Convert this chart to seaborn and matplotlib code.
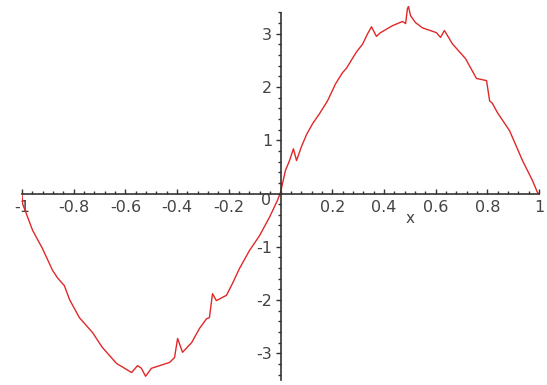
import numpy as np
import matplotlib
matplotlib.use("Agg")
import matplotlib.pyplot as plt
import seaborn as sns
from matplotlib.ticker import MultipleLocator

# curve points
x_vals = [-1.000, -0.998, -0.983, -0.959, -0.921, -0.882, -0.863, -0.836, -0.816,
          -0.778, -0.727, -0.689, -0.634, -0.576, -0.553, -0.538, -0.522, -0.499,
          -0.429, -0.410, -0.398, -0.379, -0.344, -0.313, -0.286, -0.275, -0.263,
          -0.248, -0.209, -0.186, -0.159, -0.120, -0.081, -0.043, -0.012, 0.000,
          0.019, 0.035, 0.050, 0.062, 0.081, 0.101, 0.124, 0.151, 0.182, 0.213,
          0.240, 0.255, 0.294, 0.317, 0.337, 0.352, 0.371, 0.387, 0.433, 0.472,
          0.484, 0.491, 0.495, 0.503, 0.522, 0.549, 0.603, 0.619, 0.634, 0.665,
          0.716, 0.758, 0.797, 0.809, 0.820, 0.839, 0.886, 0.936, 0.975, 0.994, 1.000]
y_vals = [0.00, -0.19, -0.38, -0.69, -1.03, -1.44, -1.58, -1.73, -1.99,
          -2.33, -2.61, -2.89, -3.19, -3.36, -3.23, -3.28, -3.43, -3.28,
          -3.17, -3.08, -2.72, -2.98, -2.80, -2.53, -2.35, -2.33, -1.88,
          -2.01, -1.91, -1.69, -1.41, -1.07, -0.79, -0.45, -0.13, 0.02,
          0.43, 0.62, 0.84, 0.62, 0.88, 1.11, 1.31, 1.50, 1.74, 2.06,
          2.27, 2.35, 2.66, 2.80, 3.00, 3.13, 2.95, 3.02, 3.15, 3.23,
          3.19, 3.47, 3.51, 3.34, 3.21, 3.11, 3.02, 2.93, 3.06, 2.81,
          2.53, 2.16, 2.12, 1.74, 1.69, 1.52, 1.18, 0.62, 0.24, 0.02, 0.00]

x_ticks = [-1, -0.8, -0.6, -0.4, -0.2, 0.2, 0.4, 0.6, 0.8, 1]
x_labels = ["-1", "-0.8", "-0.6", "-0.4", "-0.2", "0.2", "0.4", "0.6", "0.8", "1"]
y_ticks = [-3, -2, -1, 1, 2, 3]
y_labels = ["-3", "-2", "-1", "1", "2", "3"]

sns.set_style("white")
plt.rcParams["font.family"] = ["DejaVu Sans"]
plt.rcParams["axes.unicode_minus"] = False

fig = plt.figure(figsize=(5.47, 3.85), dpi=100)
ax = fig.add_axes([0.0402, 0.013, 0.9452, 0.9714])

sns.lineplot(x=x_vals, y=y_vals, ax=ax, color="#e02828", linewidth=1.0,
             sort=False, estimator=None)

ax.set_xlim(-1, 1)
ax.set_ylim(-3.5, 3.52)

axis_col = "#333333"
txt_col = "#444444"
for side in ["top", "right"]:
    ax.spines[side].set_visible(False)
ax.spines["left"].set_position(("data", 0))
ax.spines["bottom"].set_position(("data", 0))
ax.spines["left"].set_bounds(-3.5, 3.38)
for side in ["left", "bottom"]:
    ax.spines[side].set_color(axis_col)
    ax.spines[side].set_linewidth(1.2)

ax.set_xticks(x_ticks)
ax.set_xticklabels(x_labels)
ax.set_yticks(y_ticks)
ax.set_yticklabels(y_labels)
ax.xaxis.set_minor_locator(MultipleLocator(0.04))
ax.yaxis.set_minor_locator(MultipleLocator(0.2))

ax.tick_params(axis="x", which="both", bottom=True, top=False)
ax.tick_params(axis="y", which="both", left=True, right=False)
ax.tick_params(axis="x", which="major", direction="in", length=3.5, width=1,
               color=axis_col, pad=5, labelsize=11.5, labelcolor=txt_col)
ax.tick_params(axis="x", which="minor", direction="in", length=2.2, width=1,
               color=axis_col)
ax.tick_params(axis="y", which="major", direction="out", length=3.5, width=1,
               color=axis_col, pad=2.5, labelsize=11.5, labelcolor=txt_col)
ax.tick_params(axis="y", which="minor", direction="out", length=2.2, width=1,
               color=axis_col)

# the lone origin label and the axis name
ax.text(-0.054, -0.13, "0", ha="center", va="center", fontsize=11.5, color=txt_col)
ax.set_xlabel("x", fontsize=11, color=txt_col, va="center")
ax.xaxis.set_label_coords(0.5, -0.47, transform=ax.transData)
ax.set_ylabel("")

ax.set_facecolor("white")
fig.savefig("out.png", dpi=100, facecolor="white")
